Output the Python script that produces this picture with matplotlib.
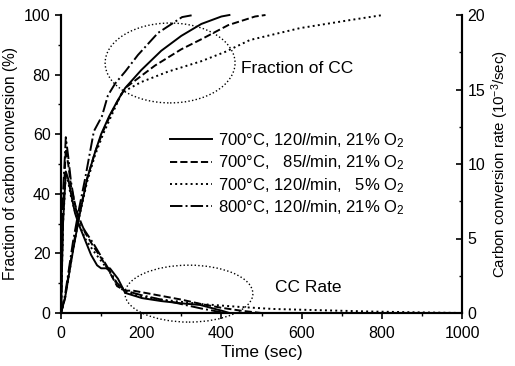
import numpy as np
import matplotlib.pyplot as plt
from matplotlib.patches import Ellipse

plt.rcParams['font.family'] = ['Liberation Sans', 'DejaVu Sans']
plt.rcParams['mathtext.fontset'] = 'custom'
plt.rcParams['mathtext.rm'] = 'Liberation Sans'
plt.rcParams['mathtext.it'] = 'Liberation Sans:italic'

# fraction of carbon conversion (%)
t_f_a = [0, 10, 20, 30, 45, 65, 85, 100, 120, 140, 160, 200, 250, 300, 350, 400, 420]
f_a = [0, 5, 13, 21, 32, 45, 54, 60, 66, 71, 75.5, 81.5, 88, 93, 97, 99.5, 100]
t_f_b = [0, 10, 20, 30, 45, 65, 85, 105, 125, 145, 160, 234, 300, 352, 417, 484, 510]
f_b = [0, 5, 14, 22, 33, 45, 54, 61, 67, 72, 75.5, 83, 88.5, 92, 96.6, 99.5, 100]
t_f_c = [0, 10, 20, 30, 45, 65, 85, 105, 125, 152, 200, 267, 350, 409, 471, 596, 721, 803]
f_c = [0, 5, 13, 21, 32, 44, 53, 60, 66, 74, 77.5, 81, 84.5, 87.6, 91.6, 95.6, 98.3, 100]
t_f_d = [0, 10, 20, 30, 45, 60, 82, 102, 117, 135, 160, 192, 242, 302, 330]
f_d = [0, 6, 15, 24, 35, 45, 61, 66, 73, 77, 81, 86.6, 94, 99.3, 100]

# carbon conversion rate (1e-3 / sec)
t_r_a = [0, 5, 12, 18, 25, 35, 45, 60, 75, 90, 100, 122, 142, 160, 202, 250, 300, 347, 404, 420]
r_a = [0, 6, 9.5, 9.0, 8.0, 6.7, 5.9, 4.9, 3.9, 3.2, 3.0, 3.0, 2.3, 1.35, 1.0, 0.8, 0.65, 0.54, 0.13, 0]
t_r_b = [0, 5, 12, 18, 25, 35, 45, 60, 80, 100, 120, 140, 160, 180, 220, 260, 300, 350, 400, 450, 500]
r_b = [0, 7, 11, 10, 8.5, 7.3, 6.4, 5.4, 4.5, 3.7, 2.8, 1.8, 1.5, 1.5, 1.3, 1.1, 0.9, 0.6, 0.35, 0.15, 0]
t_r_c = [0, 5, 12, 18, 25, 35, 45, 60, 80, 100, 120, 140, 160, 200, 250, 300, 350, 400, 450,
         529, 600, 700, 770, 900, 1000]
r_c = [0, 6, 9.3, 8.8, 7.8, 6.8, 6.0, 5.0, 4.2, 3.5, 2.8, 1.9, 1.4, 1.1, 0.9, 0.75, 0.6, 0.5, 0.4,
       0.27, 0.22, 0.15, 0.1, 0.04, 0]
t_r_d = [0, 5, 12, 18, 25, 35, 45, 60, 80, 100, 120, 140, 160, 200, 250, 300, 350, 400]
r_d = [0, 8, 11.8, 10.5, 8.8, 7.2, 6.2, 5.5, 4.7, 3.8, 2.9, 2.0, 1.5, 1.2, 0.9, 0.6, 0.3, 0.05]

labels = ['700°C, 120$\\it{l}$/min, 21% O$_2$',
          '700°C,   85$\\it{l}$/min, 21% O$_2$',
          '700°C, 120$\\it{l}$/min,   5% O$_2$',
          '800°C, 120$\\it{l}$/min, 21% O$_2$']
styles = ['-', '--', ':', '-.']

fig = plt.figure(figsize=(5.15, 3.66), dpi=100)
ax = fig.add_axes([61/515, 53/366, 401/515, 298/366])
ax2 = ax.twinx()

fracs = [(t_f_a, f_a), (t_f_b, f_b), (t_f_c, f_c), (t_f_d, f_d)]
rates = [(t_r_a, r_a), (t_r_b, r_b), (t_r_c, r_c), (t_r_d, r_d)]
handles = []
for (tf, ff), (tr, rr), ls, lab in zip(fracs, rates, styles, labels):
    h, = ax.plot(tf, ff, ls, color='k', lw=1.4, label=lab, clip_on=False)
    ax2.plot(tr, rr, ls, color='k', lw=1.4, clip_on=False)
    handles.append(h)

ax.set_xlim(0, 1000)
ax.set_ylim(0, 100)
ax2.set_ylim(0, 20)
ax.set_xticks(np.arange(0, 1001, 200))
ax.set_xticks(np.arange(100, 1000, 200), minor=True)
ax.set_yticks(np.arange(0, 101, 20))
ax.set_yticks(np.arange(10, 100, 20), minor=True)
ax2.set_yticks(np.arange(0, 21, 5))
ax2.set_yticks(np.arange(2.5, 20, 5), minor=True)

for a in (ax, ax2):
    a.spines['top'].set_visible(False)
    for s in a.spines.values():
        s.set_linewidth(1.5)
ax.tick_params(which='major', direction='out', length=4, width=1.2, labelsize=11.5)
ax.tick_params(axis='x', which='major', pad=5)
ax.tick_params(which='minor', direction='out', length=2.5, width=1)
ax2.tick_params(which='major', direction='in', length=4, width=1.2, labelsize=11.5, pad=4)
ax2.tick_params(which='minor', direction='in', length=2.5, width=1)

ax.set_xlabel('Time (sec)', fontsize=12.5, labelpad=3)
ax.set_ylabel('Fraction of carbon conversion (%)', fontsize=11.2, labelpad=4)
ax2.set_ylabel(r'Carbon conversion rate (10$^{-3}$/sec)', fontsize=10.8, labelpad=3)

ax.add_patch(Ellipse((272, 83.9), 324, 26.8, fill=False, ls=':', lw=1, color='k'))
ax.add_patch(Ellipse((319, 6.5), 319, 19.1, fill=False, ls=':', lw=1, color='k', clip_on=False))
ax.text(450, 82, 'Fraction of CC', fontsize=12.5, va='center')
ax.text(534, 8.7, 'CC Rate', fontsize=12.5, va='center')

ax.legend(handles=handles, loc='upper left', bbox_to_anchor=(0.272, 0.61), frameon=False,
          fontsize=12, handlelength=2.5, handletextpad=0.36, labelspacing=0.22,
          borderpad=0, borderaxespad=0)

fig.savefig('out.png', dpi=100)
